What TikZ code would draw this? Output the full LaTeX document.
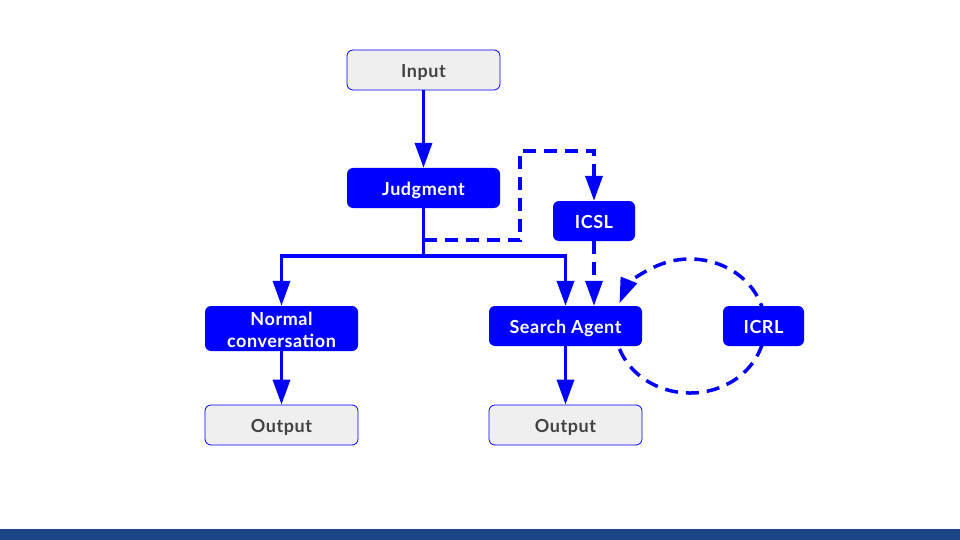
\documentclass[tikz,border=0pt]{standalone}
\usepackage{fontspec}
\setmainfont{Lato}[LetterSpace=3]
\usetikzlibrary{calc,arrows.meta}

\definecolor{flowblue}{HTML}{0000FF}
\definecolor{boxgray}{HTML}{EFEFEF}
\definecolor{textgray}{HTML}{434343}
\definecolor{barblue}{HTML}{1C4587}

\tikzset{
  box/.style={rounded corners=6pt, minimum height=40pt, inner sep=2pt,
    font=\fontsize{18}{22}\selectfont\bfseries, align=center,
    text height=15pt, text depth=0pt},
  iobox/.style={box, draw=flowblue, line width=0.8pt, fill=boxgray,
    text=textgray, minimum width=153pt},
  stepbox/.style={box, fill=flowblue, text=white, minimum width=153pt},
  flow/.style={draw=flowblue, line width=3.5pt,
    -{Triangle[length=25pt, width=17pt]}},
  dashflow/.style={flow, dash pattern=on 13pt off 8pt}
}

\begin{document}
\begin{tikzpicture}[x=1pt, y=-1pt]
  \useasboundingbox (0,0) rectangle (960,540);
  % bottom bar
  \fill[barblue] (0,529) rectangle (960,540);

  % loop round ICRL, behind the boxes
  \coordinate (loop) at (690,326);
  \draw[dashflow] ($(loop)+(200:75pt and 67pt)$)
    arc[start angle=200, end angle=520, x radius=75pt, y radius=67pt];

  \node[iobox] (input) at (423.5,70) {Input};
  \node[stepbox] (judg) at (423.5,188) {Judgment};
  \node[stepbox, minimum width=82pt] (icsl) at (594,221) {ICSL};
  \node[stepbox, minimum height=45pt, text height={}, text depth={}]
    (normal) at (281.5,328.5) {\rule{0pt}{16pt}Normal\\conversation};
  \node[stepbox] (search) at (565.5,326) {Search Agent};
  \node[stepbox, minimum width=81pt] (icrl) at (763.5,326) {ICRL};
  \node[iobox] (outl) at (281.5,425) {Output};
  \node[iobox] (outr) at (565.5,425) {Output};

  % main flow
  \draw[flow] (input) -- (judg);
  \draw[flowblue, line width=3.5pt] (judg.south) -- ++(0,48) coordinate (split);
  \draw[flow] (split) -| (normal.north);
  \draw[flow] (split) -| (search.north);
  \draw[flow] (normal) -- (outl);
  \draw[flow] (search) -- (outr);

  % dashed branch through ICSL
  \coordinate (bend) at (520,151);
  \draw[dashflow] ($(judg.south)+(0,32)$) -| (bend) -| (icsl.north);
  \draw[dashflow] (icsl.south) -- (icsl.south |- search.north);
\end{tikzpicture}
\end{document}
